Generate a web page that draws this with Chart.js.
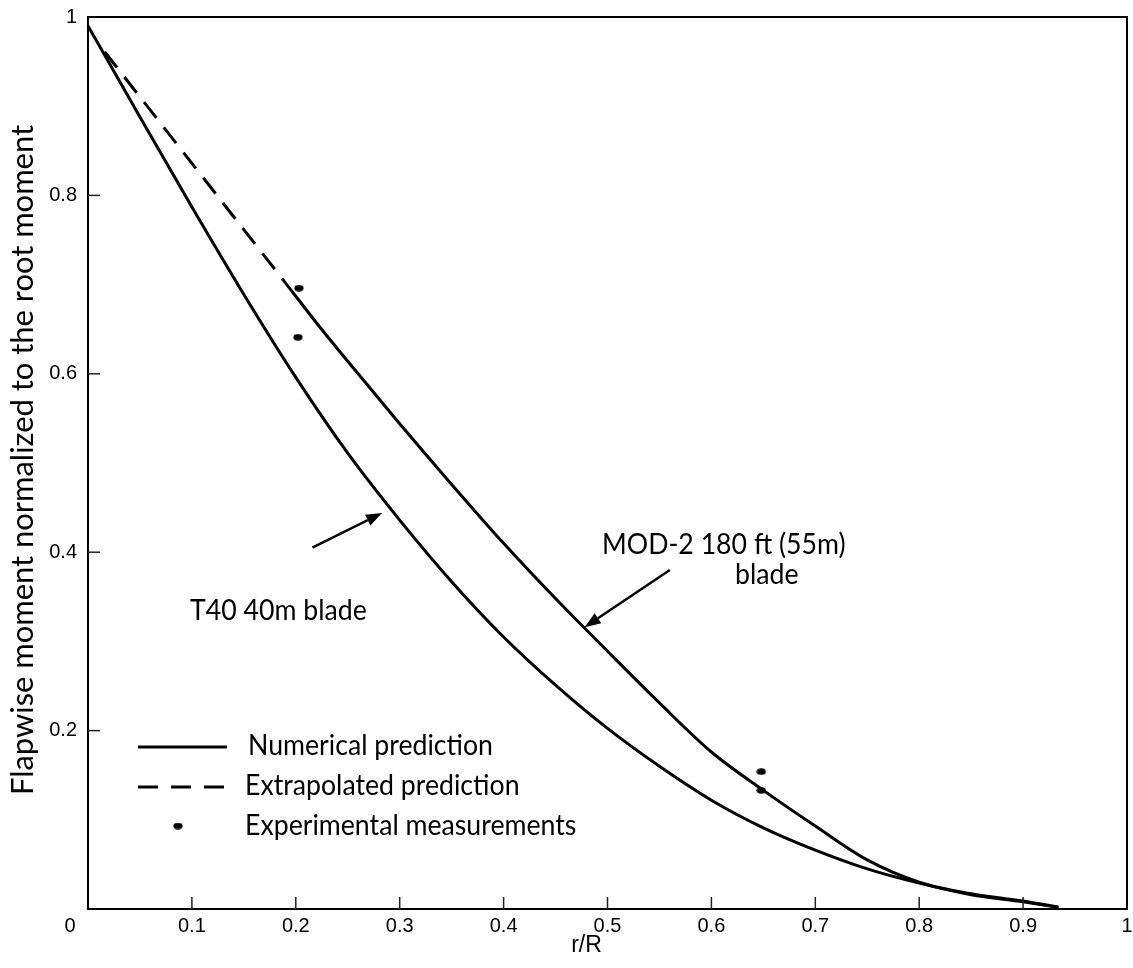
<!DOCTYPE html>
<html><head><meta charset="utf-8">
<script src="https://cdn.jsdelivr.net/npm/chart.js@4"></script>
<style>html,body{margin:0;padding:0;background:#fff}#wrap{width:1133px;height:968px}</style>
</head><body><div id="wrap"><canvas id="c" width="1133" height="968"></canvas></div>
<script>
// ---- data ----
const t40R = [0, 0.05, 0.1, 0.15, 0.2, 0.25, 0.3, 0.35, 0.4, 0.45, 0.5, 0.55, 0.6, 0.65, 0.7, 0.75, 0.8, 0.85, 0.9, 0.934];
const t40M = [0.99, 0.888, 0.787, 0.689, 0.596, 0.511, 0.436, 0.367, 0.305, 0.251, 0.2025, 0.16, 0.122, 0.091, 0.066, 0.045, 0.029, 0.016, 0.008, 0.002];
const mod2R = [0.19, 0.22, 0.25, 0.3, 0.35, 0.4, 0.45, 0.5, 0.55, 0.6, 0.65, 0.7, 0.75, 0.8, 0.85, 0.9, 0.934];
const mod2M = [0.702, 0.657, 0.614, 0.544, 0.476, 0.41, 0.348, 0.289, 0.231, 0.176, 0.133, 0.093, 0.055, 0.03, 0.017, 0.009, 0.002];
const extrapR = [0.016, 0.19];
const extrapM = [0.961, 0.702];
const expR = [0.203, 0.202, 0.648, 0.648];
const expM = [0.696, 0.641, 0.154, 0.133];
const xTickVals = [0.1, 0.2, 0.3, 0.4, 0.5, 0.6, 0.7, 0.8, 0.9];
const yTickVals = [0.2, 0.4, 0.6, 0.8];
const xTitle = 'r/R';
const yTitle = 'Flapwise moment normalized to the root moment';
const legendLabels = ['Numerical prediction', 'Extrapolated prediction', 'Experimental measurements'];
const t40Label = 'T40 40m blade';
const mod2Label1 = 'MOD-2 180 ft (55m)';
const mod2Label2 = 'blade';

const pts = (xs, ys) => xs.map((x, i) => ({x: x, y: ys[i]}));
const fmt = v => String(Math.round(v * 10) / 10);

// ellipse marker
const dot = document.createElement('canvas');
dot.width = 10; dot.height = 7;
(function(){ const g = dot.getContext('2d'); g.fillStyle = '#000'; g.beginPath(); g.ellipse(5, 3.5, 4.6, 3.2, 0, 0, Math.PI * 2); g.fill(); })();

const CALF = 'Lato, "Open Sans", sans-serif';
const ARIAL = '"Liberation Sans", Arial, sans-serif';

function arrow(ctx, x1, y1, x2, y2) {
  const a = Math.atan2(y2 - y1, x2 - x1), L = 16, W = 6;
  const bx = x2 - L * Math.cos(a), by = y2 - L * Math.sin(a);
  ctx.beginPath(); ctx.moveTo(x1, y1); ctx.lineTo(bx, by); ctx.lineWidth = 2.5; ctx.stroke();
  ctx.beginPath(); ctx.moveTo(x2, y2);
  ctx.lineTo(bx + W * Math.sin(a), by - W * Math.cos(a));
  ctx.lineTo(bx - W * Math.sin(a), by + W * Math.cos(a));
  ctx.closePath(); ctx.fill();
}

const deco = {
  id: 'deco',
  afterDraw(chart) {
    const ctx = chart.ctx, a = chart.chartArea, xs = chart.scales.x, ys = chart.scales.y;
    ctx.save();
    ctx.strokeStyle = '#000'; ctx.fillStyle = '#000';
    // frame
    ctx.lineWidth = 2; ctx.strokeRect(a.left, a.top, a.right - a.left, a.bottom - a.top);
    // inward ticks
    ctx.lineWidth = 1.5; ctx.strokeStyle = '#222';
    xTickVals.forEach(v => { const p = xs.getPixelForValue(v); ctx.beginPath(); ctx.moveTo(p, a.bottom); ctx.lineTo(p, a.bottom - 12); ctx.stroke(); });
    yTickVals.forEach(v => { const p = ys.getPixelForValue(v); ctx.beginPath(); ctx.moveTo(a.left, p); ctx.lineTo(a.left + 12, p); ctx.stroke(); });
    ctx.strokeStyle = '#000';
    // corner zero + x title
    ctx.font = '20px ' + ARIAL; ctx.textAlign = 'center'; ctx.textBaseline = 'middle';
    ctx.fillText('0', a.left - 18, a.bottom + 17);
    ctx.font = '23px ' + ARIAL; ctx.fillText(xTitle, (a.left + a.right) / 2 - 21, a.bottom + 37);
    // calibri-like texts
    ctx.font = '29px ' + CALF; ctx.textBaseline = 'alphabetic';
    const sx = 245 / ctx.measureText(legendLabels[0]).width;
    const cal = (t, x, y, al) => { ctx.save(); ctx.translate(x, y); ctx.scale(sx, 1); ctx.textAlign = al || 'left'; ctx.fillText(t, 0, 0); ctx.restore(); };
    // y title
    ctx.save(); ctx.font = '31px ' + CALF;
    const tw = ctx.measureText(yTitle).width;
    ctx.translate(33, 460); ctx.rotate(-Math.PI / 2); ctx.scale(670 / tw, 1); ctx.textAlign = 'center'; ctx.fillText(yTitle, 0, 0); ctx.restore();
    // legend
    ctx.lineWidth = 3;
    ctx.beginPath(); ctx.moveTo(138, 747); ctx.lineTo(227, 747); ctx.stroke();
    ctx.setLineDash([20, 13]); ctx.beginPath(); ctx.moveTo(138, 787); ctx.lineTo(225, 787); ctx.stroke(); ctx.setLineDash([]);
    ctx.drawImage(dot, 173, 822.5);
    cal(legendLabels[0], 248, 755);
    cal(legendLabels[1], 245, 795);
    cal(legendLabels[2], 245, 835);
    // annotations
    cal(t40Label, 190, 620);
    arrow(ctx, xs.getPixelForValue(0.216), ys.getPixelForValue(0.405), xs.getPixelForValue(0.283), ys.getPixelForValue(0.444));
    cal(mod2Label1, 602, 554);
    cal(mod2Label2, 735, 584);
    arrow(ctx, xs.getPixelForValue(0.56), ys.getPixelForValue(0.38), xs.getPixelForValue(0.478), ys.getPixelForValue(0.316));
    ctx.restore();
  }
};

new Chart(document.getElementById('c'), {
  type: 'scatter',
  data: {
    datasets: [
      {label: 'T40', data: pts(t40R, t40M), showLine: true, borderColor: '#000', borderWidth: 3, pointRadius: 0, cubicInterpolationMode: 'monotone', clip: false},
      {label: 'MOD-2', data: pts(mod2R, mod2M), showLine: true, borderColor: '#000', borderWidth: 3, pointRadius: 0, cubicInterpolationMode: 'monotone', clip: false},
      {label: 'Extrapolated', data: pts(extrapR, extrapM), showLine: true, borderColor: '#000', borderWidth: 3, borderDash: [20, 12], pointRadius: 0, clip: false},
      {label: 'Experimental', data: pts(expR, expM), showLine: false, pointStyle: dot, pointRadius: 5, clip: false}
    ]
  },
  options: {
    responsive: false, animation: false, devicePixelRatio: 1,
    layout: {padding: {top: 17, right: 3, left: 0, bottom: 0}},
    plugins: {legend: {display: false}, tooltip: {enabled: false}},
    scales: {
      x: {type: 'linear', min: 0, max: 1,
        ticks: {stepSize: 0.1, autoSkip: false, maxRotation: 0, padding: 5, color: '#000', font: {family: ARIAL, size: 20},
          callback: v => (Math.abs(v) < 1e-9 ? '' : fmt(v))},
        grid: {display: false, drawTicks: false}, border: {display: false},
        afterFit: s => { s.height = 59; s.paddingLeft = 0; s.paddingRight = 0; }},
      y: {type: 'linear', min: 0, max: 1,
        ticks: {stepSize: 0.2, autoSkip: false, padding: 11, color: '#000', font: {family: ARIAL, size: 20},
          callback: v => (Math.abs(v) < 1e-9 ? '' : fmt(v))},
        grid: {display: false, drawTicks: false}, border: {display: false},
        afterFit: s => { s.width = 88; s.paddingTop = 0; s.paddingBottom = 0; }}
    }
  },
  plugins: [deco]
});
</script></body></html>
